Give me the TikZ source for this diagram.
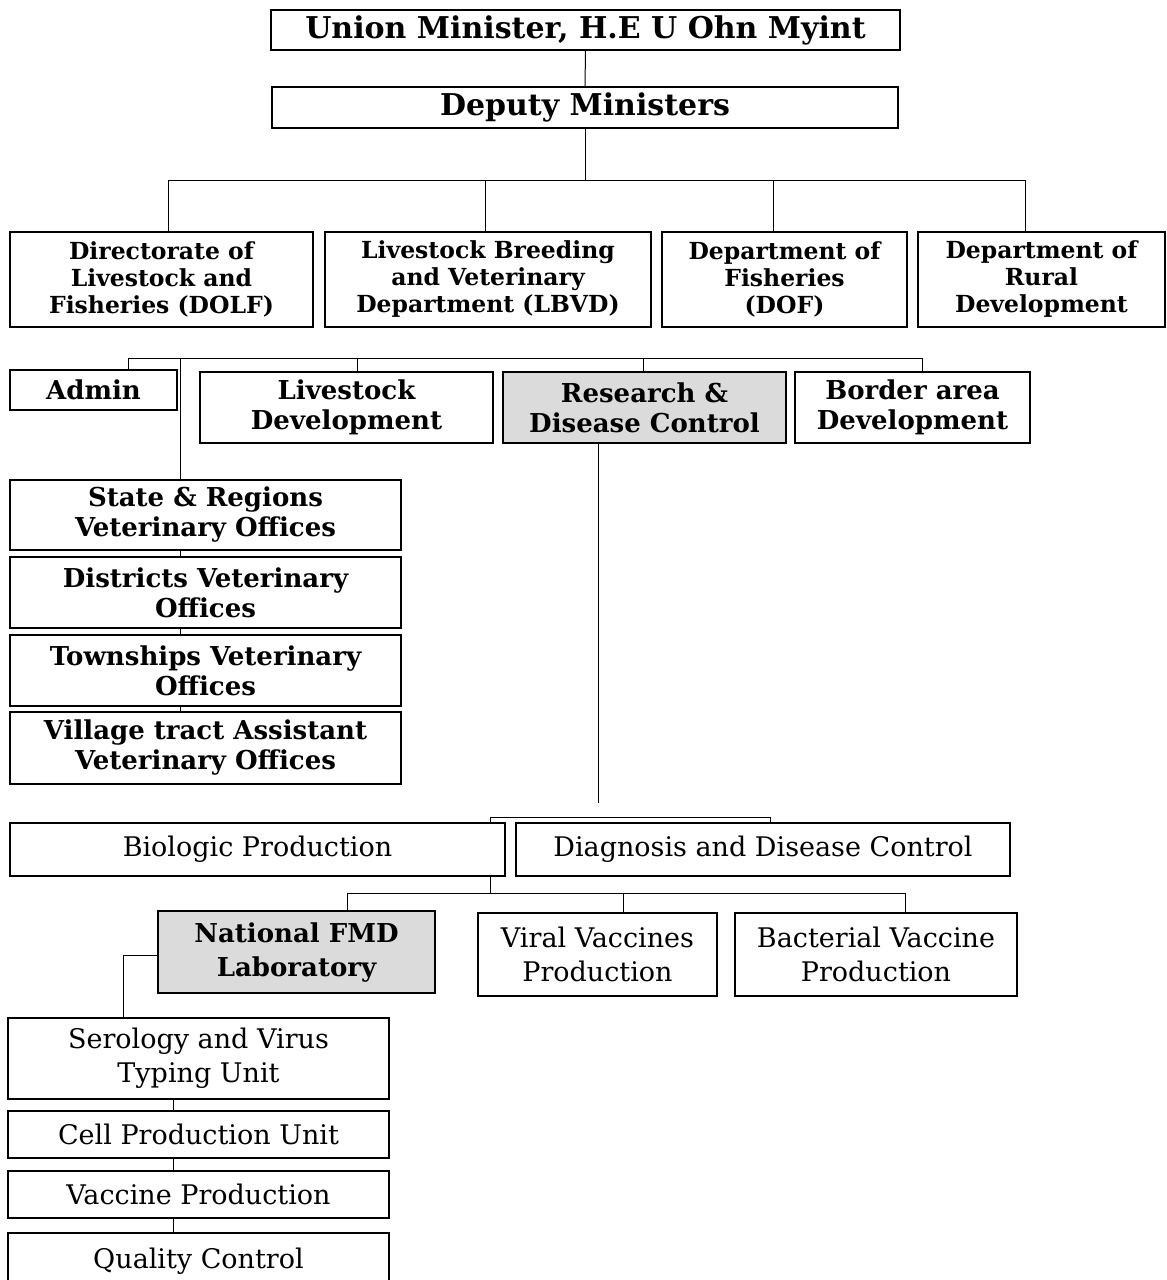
\documentclass[tikz,border=0pt]{standalone}
\usepackage{fontspec}
\setmainfont{DejaVu Serif}
\begin{document}
\begin{tikzpicture}[x=1pt,y=-1pt,
  box/.style={draw, line width=1.3pt, align=center, inner sep=0pt},
  shaded/.style={box, fill=black!14},
  conn/.style={line width=1pt},
  ftop/.style={font=\fontsize{30}{34}\selectfont\bfseries},
  fmid/.style={font=\fontsize{23.5}{27}\selectfont\bfseries},
  flow/.style={font=\fontsize{27}{34}\selectfont},
  flowb/.style={font=\fontsize{26}{30}\selectfont\bfseries},
  flowc/.style={font=\fontsize{26}{34}\selectfont\bfseries}]
\useasboundingbox (0,0) rectangle (1167,1280);
\clip (0,0) rectangle (1167,1280);
% top
\node[box, ftop, minimum width=629pt, minimum height=40pt] (union) at (585.5,30) {Union Minister, H.E U Ohn Myint};
\node[box, ftop, minimum width=626pt, minimum height=41pt] (deputy) at (585,107.5) {Deputy Ministers};
% level 3
\node[box, fmid, minimum width=303pt, minimum height=95pt] (dolf) at (161.5,279.5) {Directorate of\\Livestock and\\Fisheries (DOLF)};
\node[box, fmid, minimum width=326pt, minimum height=95pt] (lbvd) at (488,279.5) {Livestock Breeding\\and Veterinary\\Department (LBVD)};
\node[box, fmid, minimum width=245pt, minimum height=95pt] (dof) at (784.5,279.5) {Department of\\Fisheries\\(DOF)};
\node[box, fmid, minimum width=247pt, minimum height=95pt] (drd) at (1041.5,279.5) {Department of\\Rural\\Development};
% level 4
\node[box, flowb, minimum width=167pt, minimum height=40pt] (admin) at (93.5,390) {Admin};
\node[box, flowb, minimum width=293pt, minimum height=71pt] (livdev) at (346.5,407.5) {Livestock\\Development};
\node[shaded, flowb, minimum width=283pt, minimum height=71pt] (research) at (644.5,407.5) {Research \&\\Disease Control};
\node[box, flowb, minimum width=235pt, minimum height=71pt] (border) at (912.5,407.5) {Border area\\Development};
% veterinary offices
\node[box, flowb, minimum width=391pt, minimum height=70pt] (state) at (205.5,515) {State \& Regions\\Veterinary Offices};
\node[box, flowb, minimum width=391pt, minimum height=71pt] (district) at (205.5,592.5) {Districts Veterinary\\Offices};
\node[box, flowb, minimum width=391pt, minimum height=71pt] (township) at (205.5,670.5) {Townships Veterinary\\Offices};
\node[box, flowb, minimum width=391pt, minimum height=72pt] (village) at (205.5,748) {Village tract Assistant\\Veterinary Offices};
% research branch
\node[box, flow, minimum width=495pt, minimum height=53pt] (biologic) at (257.5,849.5) {Biologic Production};
\node[box, flow, minimum width=494pt, minimum height=53pt] (diagnosis) at (763,849.5) {Diagnosis and Disease Control};
\node[shaded, flowc, minimum width=277pt, minimum height=82pt] (fmd) at (296.5,952) {National FMD\\Laboratory};
\node[box, flow, minimum width=239pt, minimum height=83pt] (viral) at (597.5,954.5) {Viral Vaccines\\Production};
\node[box, flow, minimum width=282pt, minimum height=83pt] (bacterial) at (876,954.5) {Bacterial Vaccine\\Production};
% FMD units
\node[box, flow, minimum width=381pt, minimum height=81pt] (serology) at (198.5,1058.5) {Serology and Virus\\Typing Unit};
\node[box, flow, minimum width=381pt, minimum height=47pt] (cell) at (198.5,1134.5) {Cell Production Unit};
\node[box, flow, minimum width=381pt, minimum height=47pt] (vaccine) at (198.5,1194.5) {Vaccine Production};
\node[box, flow, minimum width=381pt, minimum height=57pt] (quality) at (198.5,1261.5) {Quality Control};
% coordinates
\coordinate (bar1) at (0,180);
\coordinate (bar2) at (0,358);
\coordinate (lvA) at (180,480);
\coordinate (rdEnd) at (598,803);
\coordinate (bar3) at (0,817);
\coordinate (bar4) at (0,893);
\coordinate (fmdL) at (123,955);
% connectors
\draw[conn] (union.south) -- (deputy.north);
\draw[conn] (deputy.south) -- (deputy.south |- bar1);
\draw[conn] ([xshift=6.5pt]dolf.north) |- ([xshift=-16.5pt]drd.north |- bar1) -- ([xshift=-16.5pt]drd.north);
\draw[conn] ([xshift=-3pt]lbvd.north) -- ([xshift=-3pt]lbvd.north |- bar1);
\draw[conn] ([xshift=-11.5pt]dof.north) -- ([xshift=-11.5pt]dof.north |- bar1);
% level 4 connectors
\draw[conn] ([xshift=34.5pt]admin.north) |- ([xshift=9.5pt]border.north |- bar2) -- ([xshift=9.5pt]border.north);
\draw[conn] (lvA |- bar2) -- (lvA);
\draw[conn] ([xshift=10.5pt]livdev.north) -- ([xshift=10.5pt]livdev.north |- bar2);
\draw[conn] ([xshift=-1.5pt]research.north) -- ([xshift=-1.5pt]research.north |- bar2);
% vet offices chain
\draw[conn] ([xshift=-25.5pt]state.south) -- ([xshift=-25.5pt]district.north);
\draw[conn] ([xshift=-25.5pt]district.south) -- ([xshift=-25.5pt]township.north);
\draw[conn] ([xshift=-25.5pt]township.south) -- ([xshift=-25.5pt]village.north);
% research down
\draw[conn] (research.south -| rdEnd) -- (rdEnd);
\draw[conn] ([xshift=232.5pt]biologic.north) |- ([xshift=7pt]diagnosis.north |- bar3) -- ([xshift=7pt]diagnosis.north);
\draw[conn] ([xshift=232.5pt]biologic.south) -- ([xshift=232.5pt]biologic.south |- bar4);
\draw[conn] ([xshift=50.5pt]fmd.north) |- ([xshift=29pt]bacterial.north |- bar4) -- ([xshift=29pt]bacterial.north);
\draw[conn] ([xshift=25.5pt]viral.north) -- ([xshift=25.5pt]viral.north |- bar4);
% FMD units
\draw[conn] (fmd.west |- fmdL) -- (fmdL) -- (fmdL |- serology.north);
\draw[conn] ([xshift=-25.5pt]serology.south) -- ([xshift=-25.5pt]cell.north);
\draw[conn] ([xshift=-25.5pt]cell.south) -- ([xshift=-25.5pt]vaccine.north);
\draw[conn] ([xshift=-25.5pt]vaccine.south) -- ([xshift=-25.5pt]quality.north);
\end{tikzpicture}
\end{document}
